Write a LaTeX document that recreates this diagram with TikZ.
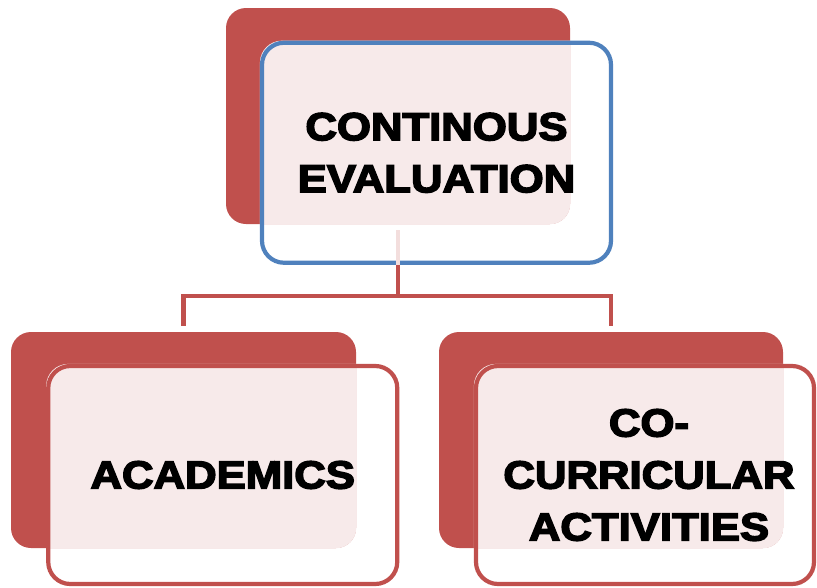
\documentclass[tikz,border=0pt]{standalone}
\usepackage{fontspec}
\newfontfamily\boxfont{Liberation Sans}[FakeStretch=1.12,BoldFeatures={FakeBold=4}]
\usetikzlibrary{backgrounds}
\definecolor{boxred}{RGB}{192,80,77}
\definecolor{boxblue}{RGB}{79,129,189}
\definecolor{boxpink}{RGB}{247,234,234}
\definecolor{faintred}{RGB}{243,222,221}

\begin{document}
\begin{tikzpicture}[x=1pt, y=-1pt,
  back node/.style={rectangle, rounded corners=20pt, fill=boxred, inner sep=0pt},
  main node/.style={rectangle, rounded corners=22pt, draw=boxred, line width=4.2pt,
    align=center, inner sep=0pt, font=\boxfont\bfseries\fontsize{39}{52}\selectfont},
  link/.style={draw=boxred, line width=4.2pt}]
\useasboundingbox (0,0) rectangle (817,587);

\node[main node, draw=boxblue, minimum width=349pt, minimum height=220pt] (eval) at (436.5,152.75) {CONTINOUS\\EVALUATION};
\node[main node, minimum width=349pt, minimum height=218pt] (acad) at (222.75,475) {ACADEMICS};
\node[main node, minimum width=338pt, minimum height=218pt] (cocur) at (645,475) {\hspace*{8pt}CO-\\\hspace*{8pt}CURRICULAR\\\hspace*{8pt}ACTIVITIES};

\begin{scope}[on background layer]
\node[back node, minimum width=344pt, minimum height=216pt] (evalback) at (398,116) {};
\node[back node, minimum width=345pt, minimum height=216pt] (acadback) at (183.5,440) {};
\node[back node, minimum width=344pt, minimum height=216pt] (cocurback) at (611,440) {};
% pale fill where the boxes overlap
\foreach \front/\back in {eval/evalback, acad/acadback, cocur/cocurback}{
  \begin{scope}
    \clip[rounded corners=20pt] (\back.north west) rectangle (\back.south east);
    \fill[boxpink, rounded corners=22pt] (\front.north west) rectangle (\front.south east);
  \end{scope}
}
\end{scope}

\draw[faintred, line width=4.2pt] ([yshift=-6pt]evalback.south) -- (evalback.south |- eval.south);
\draw[link] (evalback.south |- eval.south) -- ++(0,31) coordinate (split) -| ([yshift=6pt]acadback.north);
\draw[link] (split) -| ([yshift=6pt]cocurback.north);
\end{tikzpicture}
\end{document}
